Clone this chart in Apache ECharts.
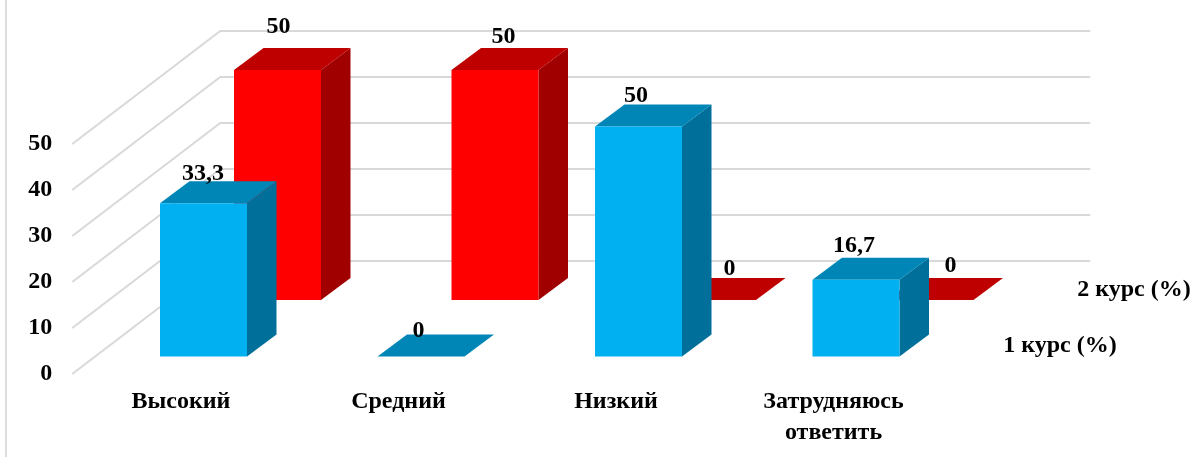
<!DOCTYPE html>
<html><head><meta charset="utf-8">
<style>html,body{margin:0;padding:0;background:#fff}#c{width:1194px;height:457px}</style>
<script src="https://cdn.jsdelivr.net/npm/echarts@6/dist/echarts.min.js"></script>
</head><body><div id="c"></div>
<script>
const categories = ['Высокий', 'Средний', 'Низкий', 'Затрудняюсь\nответить'];
const course1 = [33.3, 0, 50, 16.7];
const course2 = [50, 50, 0, 0];
const seriesNames = ['1 курс (%)', '2 курс (%)'];
const yTicks = [0, 10, 20, 30, 40, 50];

const FONT = '"Liberation Serif","Times New Roman",serif';
const FS = 24;
const WALL = [148, -113];
const DEPTH = [29.5, -22];
const BAR_W = 0.4;
const rows = {
  front: { dx: 22.5, dy: -17.5, colors: ['#00B0F0', '#0086B6', '#00709A'],
           nudge: [[-0.5,-30],[-2.5,-25.5],[-2.5,-30.7],[-2,-34]] },
  back:  { dx: 96.5, dy: -74, colors: ['#FF0000', '#BF0000', '#A00000'],
           nudge: [[1,-43],[8.5,-33],[17,-31],[20.5,-34]] }
};

function poly(points, fill) {
  return { type: 'polygon', shape: { points }, style: { fill, stroke: null } };
}
function barRenderer(row) {
  return function (params, api) {
    const i = api.value(0), v = api.value(1);
    const top = api.coord([i, v]), base = api.coord([i, 0]);
    const w = api.size([1, 0])[0] * BAR_W;
    const x0 = top[0] + row.dx - w / 2, x1 = x0 + w;
    const yT = top[1] + row.dy, yB = base[1] + row.dy;
    const [ox, oy] = DEPTH;
    const n = row.nudge[i];
    return { type: 'group', children: [
      poly([[x1, yT], [x1 + ox, yT + oy], [x1 + ox, yB + oy], [x1, yB]], row.colors[2]),
      poly([[x0, yT], [x0 + ox, yT + oy], [x1 + ox, yT + oy], [x1, yT]], row.colors[1]),
      poly([[x0, yT], [x1, yT], [x1, yB], [x0, yB]], row.colors[0]),
      { type: 'text', z2: 100, x: top[0] + row.dx + n[0], y: yT + n[1], style: {
          text: String(v).replace('.', ','), font: 'bold ' + FS + 'px ' + FONT,
          fill: '#000', align: 'center', verticalAlign: 'middle' } }
    ] };
  };
}
function wallRenderer(params, api) {
  const v = api.value(0);
  const cs = params.coordSys;
  const y = api.coord([0, v])[1];
  const lineStyle = { stroke: '#D9D9D9', lineWidth: 2, fill: null };
  return { type: 'polyline', shape: { points: [
      [cs.x, y], [cs.x + WALL[0], y + WALL[1]], [cs.x + cs.width + WALL[0], y + WALL[1]]
    ] }, style: lineStyle };
}

const chart = echarts.init(document.getElementById('c'), null, { renderer: 'canvas' });
chart.setOption({
  animation: false,
  backgroundColor: '#fff',
  grid: { left: 72.25, width: 870, top: 144, height: 230, containLabel: false },
  xAxis: { type: 'category', data: categories, axisLine: { show: false }, axisTick: { show: false },
    axisLabel: { margin: 12, interval: 0, color: '#000', fontFamily: FONT, fontWeight: 'bold',
      fontSize: FS, lineHeight: 31, verticalAlign: 'top' } },
  yAxis: { type: 'value', min: 0, max: 50, interval: 10, axisLine: { show: false }, axisTick: { show: false },
    splitLine: { show: false },
    axisLabel: { margin: 20, color: '#000', fontFamily: FONT, fontWeight: 'bold', fontSize: FS } },
  graphic: [
    { type: 'rect', silent: true, z: 0, shape: { x: 5, y: 0, width: 2, height: 457 }, style: { fill: '#DDDDDD' } },
    { type: 'text', silent: true, x: 1060, y: 346, style: { text: seriesNames[0], font: 'bold ' + FS + 'px ' + FONT, fill: '#000', align: 'center', verticalAlign: 'middle' } },
    { type: 'text', silent: true, x: 1134, y: 290, style: { text: seriesNames[1], font: 'bold ' + FS + 'px ' + FONT, fill: '#000', align: 'center', verticalAlign: 'middle' } }
  ],
  series: [
    { type: 'custom', name: 'walls', silent: true, renderItem: wallRenderer, data: yTicks.map(v => [v]), encode: { y: 0 } },
    { type: 'custom', name: seriesNames[1], renderItem: barRenderer(rows.back), data: course2.map((v, i) => [i, v]), encode: { x: 0, y: 1 } },
    { type: 'custom', name: seriesNames[0], renderItem: barRenderer(rows.front), data: course1.map((v, i) => [i, v]), encode: { x: 0, y: 1 } }
  ]
});
</script></body></html>
